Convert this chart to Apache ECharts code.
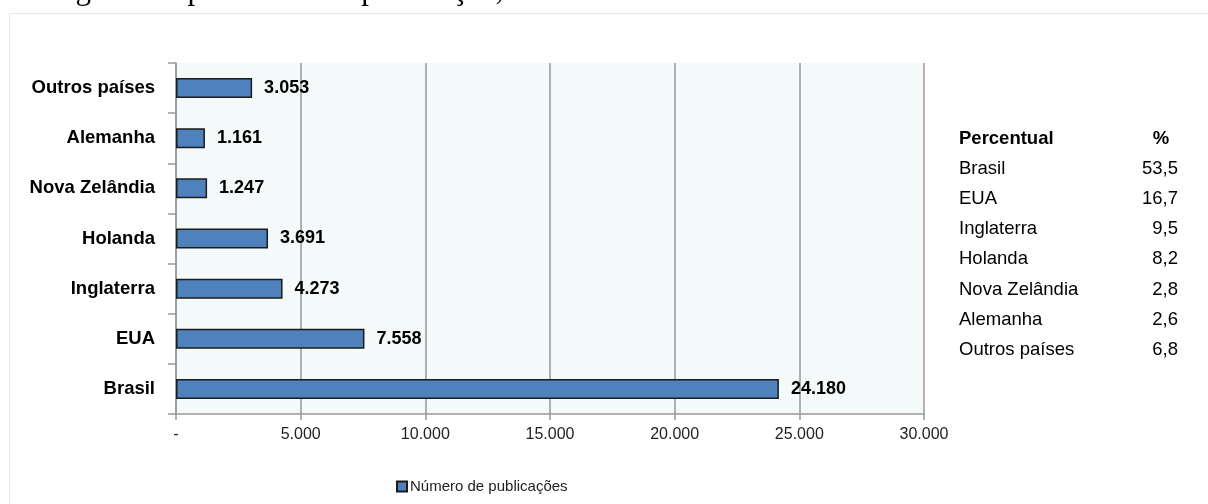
<!DOCTYPE html>
<html>
<head>
<meta charset="utf-8">
<script src="https://cdn.jsdelivr.net/npm/echarts@6/dist/echarts.min.js"></script>
<style>
  html, body { margin: 0; padding: 0; background: #fff; }
  #chart { width: 1208px; height: 504px; }
</style>
</head>
<body>
<div id="chart"></div>
<script>
// Publications by country of origin of the journals
const countries = ['Brasil', 'EUA', 'Inglaterra', 'Holanda', 'Nova Zelândia', 'Alemanha', 'Outros países'];
const publications = [24180, 7558, 4273, 3691, 1247, 1161, 3053];
const shares = ['53,5', '16,7', '9,5', '8,2', '2,8', '2,6', '6,8'];
const seriesName = 'Número de publicações';
const tableHeader = ['Percentual', '%'];
const captionText = 'de origem dos periódicos de publicação, 1950 - 2010';

const FONT = '"Liberation Sans", Arial, sans-serif';

function ptBR(v) {
  return String(v).replace(/\B(?=(\d{3})+(?!\d))/g, '.');
}

// Side table with the percentage share of each country
const tableGraphics = [];
const rowTop = 139, rowStep = 30.1;
tableGraphics.push({
  type: 'text', x: 959, y: rowTop,
  style: { text: tableHeader[0], font: 'bold 18.5px ' + FONT, fill: '#000', align: 'left', verticalAlign: 'middle' }
});
tableGraphics.push({
  type: 'text', x: 1161, y: rowTop,
  style: { text: tableHeader[1], font: 'bold 18.5px ' + FONT, fill: '#000', align: 'center', verticalAlign: 'middle' }
});
countries.forEach((c, i) => {
  const y = rowTop + rowStep * (i + 1);
  tableGraphics.push({
    type: 'text', x: 959, y: y,
    style: { text: c, font: '18.5px ' + FONT, fill: '#000', align: 'left', verticalAlign: 'middle' }
  });
  tableGraphics.push({
    type: 'text', x: 1178, y: y,
    style: { text: shares[i], font: '18.5px ' + FONT, fill: '#000', align: 'right', verticalAlign: 'middle' }
  });
});

const chart = echarts.init(document.getElementById('chart'), null, { renderer: 'canvas' });
chart.setOption({
  backgroundColor: '#fff',
  animation: false,
  grid: {
    left: 176, right: 284, top: 63, bottom: 90,
    show: true, backgroundColor: '#f4fafa', borderWidth: 0,
    containLabel: false
  },
  legend: {
    data: [seriesName],
    left: 391, top: 474,
    itemWidth: 10, itemHeight: 10, itemGap: 4,
    icon: 'rect',
    textStyle: { fontFamily: FONT, fontSize: 15, color: '#222', padding: [0, 0, 0, -2] }
  },
  xAxis: {
    type: 'value',
    min: 0, max: 30000, interval: 5000,
    axisLine: { show: true, lineStyle: { color: '#999', width: 1.5 } },
    axisTick: { show: true, length: 6, lineStyle: { color: '#999', width: 1.5 } },
    splitLine: { show: true, lineStyle: { color: '#999', width: 1.5 } },
    axisLabel: {
      margin: 13,
      fontFamily: FONT, fontSize: 16, color: '#222',
      formatter: v => (v === 0 ? '-' : ptBR(v))
    }
  },
  yAxis: {
    type: 'category',
    data: countries,
    axisLine: { show: true, lineStyle: { color: '#999', width: 1.5 } },
    axisTick: { show: true, length: 8, lineStyle: { color: '#999', width: 1.5 } },
    axisLabel: {
      margin: 21,
      fontFamily: FONT, fontSize: 18.5, fontWeight: 'bold', color: '#000'
    },
    splitLine: { show: false }
  },
  series: [{
    name: seriesName,
    type: 'bar',
    data: publications,
    barWidth: 20,
    itemStyle: { color: '#4f81bd', borderColor: '#1b1b1b', borderWidth: 1.5 },
    label: {
      show: true, position: 'right', distance: 12,
      fontFamily: FONT, fontSize: 18, fontWeight: 'bold', color: '#000',
      formatter: p => ptBR(p.value)
    }
  }],
  graphic: [
    // page frame around the figure
    {
      type: 'rect', silent: true,
      shape: { x: 9.5, y: 13.5, width: 1400, height: 700 },
      style: { fill: null, stroke: '#e6e6e6', lineWidth: 1 }
    },
    // caption line above, running off the top edge
    {
      type: 'text', x: 4, y: 6,
      style: { text: captionText, font: '31px "Liberation Serif", "Times New Roman", serif', fill: '#000', align: 'left', verticalAlign: 'bottom' }
    },
    ...tableGraphics
  ]
});
</script>
</body>
</html>
